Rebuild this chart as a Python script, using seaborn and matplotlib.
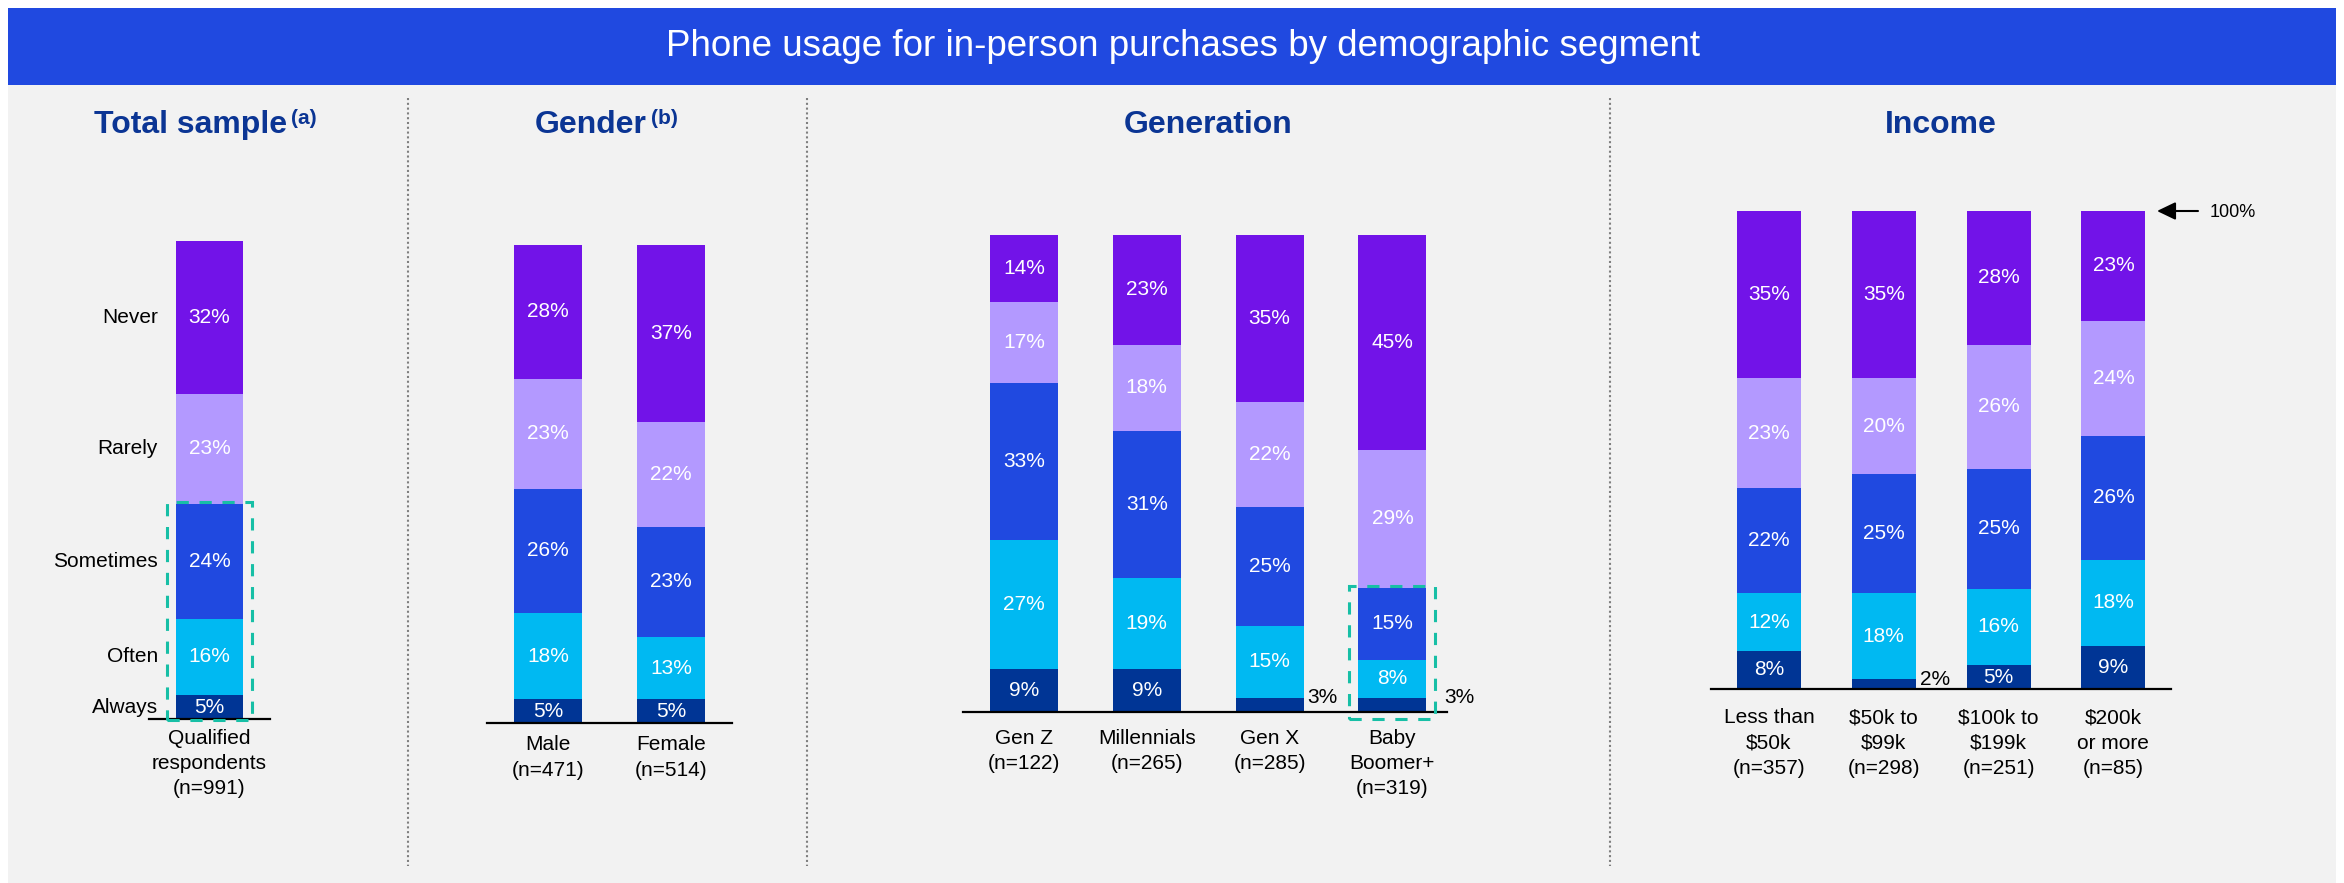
import matplotlib
matplotlib.use("Agg")
import matplotlib.pyplot as plt
from matplotlib.patches import Rectangle
from matplotlib.lines import Line2D
from matplotlib.text import Annotation
import numpy as np
import seaborn as sns

sns.set_theme(style="white")
plt.rcParams["font.family"] = ["Liberation Sans", "DejaVu Sans"]

# ---------------------------------------------------------------- data
title = "Phone usage for in-person purchases by demographic segment"
levels = ["Always", "Often", "Sometimes", "Rarely", "Never"]
level_colors = ["#003595", "#00B9F2", "#2049E0", "#B399FF", "#7213E8"]

total_title, total_sup = "Total sample", "(a)"
total_labels = ["Qualified\nrespondents\n(n=991)"]
total_always = [5]
total_often = [16]
total_sometimes = [24]
total_rarely = [23]
total_never = [32]

gender_title, gender_sup = "Gender", "(b)"
gender_labels = ["Male\n(n=471)", "Female\n(n=514)"]
gender_always = [5, 5]
gender_often = [18, 13]
gender_sometimes = [26, 23]
gender_rarely = [23, 22]
gender_never = [28, 37]

generation_title = "Generation"
generation_labels = ["Gen Z\n(n=122)", "Millennials\n(n=265)",
                     "Gen X\n(n=285)", "Baby\nBoomer+\n(n=319)"]
generation_always = [9, 9, 3, 3]
generation_often = [27, 19, 15, 8]
generation_sometimes = [33, 31, 25, 15]
generation_rarely = [17, 18, 22, 29]
generation_never = [14, 23, 35, 45]

income_title = "Income"
income_labels = ["Less than\n$50k\n(n=357)", "$50k to\n$99k\n(n=298)",
                 "$100k to\n$199k\n(n=251)", "$200k\nor more\n(n=85)"]
income_always = [8, 2, 5, 9]
income_often = [12, 18, 16, 18]
income_sometimes = [22, 25, 25, 26]
income_rarely = [23, 20, 26, 24]
income_never = [35, 35, 28, 23]

# ---------------------------------------------------------------- style
W, H = 2344, 883
NAVY = "#0B3594"
TEAL = "#17BFA6"
BG = "#F2F2F2"
BAR_BLUE = "#2049E0"

fig = plt.figure(figsize=(W / 100, H / 100), dpi=100)
fig.patch.set_facecolor("white")

fig.add_artist(Rectangle((8 / W, 0), (W - 16) / W, (H - 85) / H,
                         transform=fig.transFigure, facecolor=BG,
                         edgecolor="none", zorder=-10))
fig.add_artist(Rectangle((8 / W, 1 - 85 / H), (W - 16) / W, 77 / H,
                         transform=fig.transFigure, facecolor=BAR_BLUE,
                         edgecolor="none", zorder=-9))
fig.text(1183 / W, 1 - 47 / H, title, color="white", fontsize=26.5,
         ha="center", va="center")

for xd in (408, 807, 1610):
    fig.add_artist(Line2D([xd / W, xd / W], [1 - 98 / H, 1 - 866 / H],
                          transform=fig.transFigure, color="#7F7F7F",
                          lw=1.5, ls=(0, (1, 1.3))))


def draw_panel(heading, sup, labels, series, lay):
    n = len(labels)
    left, right = lay["axis"]
    c0, step, bw = lay["c0"], lay["step"], lay["bw"]
    base, top = lay["base"], lay["top"]
    ax = fig.add_axes([left / W, 1 - base / H, (right - left) / W,
                       (base - top) / H])
    ax.set_facecolor("none")
    ypx = 100.0 / (base - top)      # data units per pixel (vertical)

    bottoms = np.zeros(n)
    for lev, col, vals in zip(levels, level_colors, series):
        vals = np.asarray(vals, dtype=float)
        sns.barplot(x=labels, y=vals, order=labels, bottom=bottoms.copy(),
                    color=col, saturation=1, width=bw / step,
                    errorbar=None, linewidth=0, ax=ax)
        for i, v in enumerate(vals):
            if v >= 4:
                ax.text(i, bottoms[i] + v / 2, f"{int(v)}%", color="white",
                        fontsize=15, ha="center", va="center")
            else:
                gap = 4
                if lay.get("box") and lay["box"][0] == i:
                    gap = 18
                ax.text(i + (bw / 2 + gap) / step, bottoms[i] + v,
                        f"{int(v)}%", color="black", fontsize=15,
                        ha="left", va="center", clip_on=False)
        if lay.get("rows"):
            ax.text((158 - c0) / step, bottoms[0] + vals[0] / 2, lev,
                    color="black", fontsize=15, ha="right", va="center")
        bottoms += vals

    ax.set_xlim(-(c0 - left) / step, (right - c0) / step)
    ax.set_ylim(0, 100)
    ax.set_yticks([])
    ax.set_xlabel("")
    ax.set_ylabel("")
    ax.set_xticks(range(n))
    ax.set_xticklabels(labels, fontsize=15, linespacing=1.42, color="black")
    ax.tick_params(axis="x", length=0, pad=lay["pad"])
    for s in ("left", "right", "top"):
        ax.spines[s].set_visible(False)
    ax.spines["bottom"].set_color("black")
    ax.spines["bottom"].set_linewidth(1.6)

    if lay.get("box"):
        i, bpad = lay["box"]
        low = series[0][i] + series[1][i] + series[2][i]
        ax.add_patch(Rectangle((i - (bw / 2 + 9) / step, -bpad * ypx),
                               (bw + 18) / step, low + (bpad + 2) * ypx,
                               fill=False, edgecolor=TEAL, lw=2.2,
                               ls=(0, (4, 3.5)), clip_on=False, zorder=5))

    centre = (c0 + c0 + (n - 1) * step) / 2
    shift = 19 if sup else 0
    t = fig.text((centre - shift) / W, 1 - 133 / H, heading, color=NAVY,
                 fontsize=23, fontweight="bold", ha="center", va="baseline")
    if sup:
        fig.add_artist(Annotation(sup, xy=(1, 1), xycoords=t,
                                  xytext=(3, 1), textcoords="offset points",
                                  ha="left", va="top", fontsize=15,
                                  fontweight="bold", color=NAVY))
    return ax


draw_panel(total_title, total_sup, total_labels,
           [total_always, total_often, total_sometimes, total_rarely, total_never],
           dict(axis=(149, 270), c0=209.5, step=100, bw=67, base=719, top=241,
                pad=7, rows=True, box=(0, 1)))
draw_panel(gender_title, gender_sup, gender_labels,
           [gender_always, gender_often, gender_sometimes, gender_rarely, gender_never],
           dict(axis=(487, 732), c0=548, step=123, bw=68, base=723, top=245,
                pad=9))
draw_panel(generation_title, None, generation_labels,
           [generation_always, generation_often, generation_sometimes,
            generation_rarely, generation_never],
           dict(axis=(963, 1447), c0=1024, step=122.8, bw=68, base=712, top=235,
                pad=12, box=(3, 7)))
ax_inc = draw_panel(income_title, None, income_labels,
                    [income_always, income_often, income_sometimes,
                     income_rarely, income_never],
                    dict(axis=(1711, 2171), c0=1769, step=114.8, bw=64,
                         base=689, top=211, pad=14))

# 100% marker next to the last income bar
inc_c0, inc_step = 1769, 114.8
ax_inc.annotate("", xy=((2157 - inc_c0) / inc_step, 100),
                xytext=((2198 - inc_c0) / inc_step, 100),
                arrowprops=dict(arrowstyle="-|>,head_length=0.75,head_width=0.36",
                                color="black", lw=1.5, shrinkA=0, shrinkB=0,
                                mutation_scale=15),
                annotation_clip=False)
ax_inc.text((2210 - inc_c0) / inc_step, 100 - 2 * 100 / 478, "100%",
            fontsize=13, color="black", ha="left", va="center", clip_on=False)

fig.savefig("out.png", dpi=100, facecolor=fig.get_facecolor())
